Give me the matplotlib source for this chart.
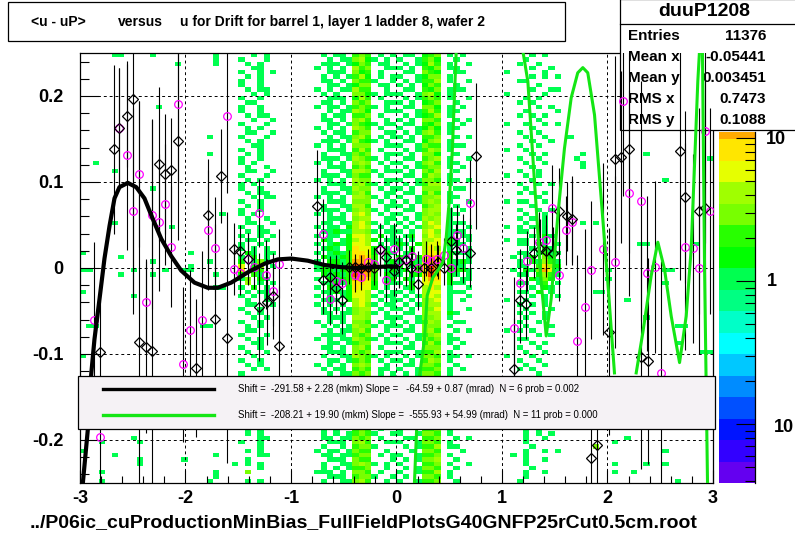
import numpy as np
import matplotlib
matplotlib.use('agg')
import matplotlib.pyplot as plt
from matplotlib import font_manager
from matplotlib.colors import ListedColormap, BoundaryNorm
from matplotlib.patches import Rectangle
from matplotlib.lines import Line2D

plt.rcParams['font.family'] = ['Liberation Sans', 'DejaVu Sans']
_names = {f.name for f in font_manager.fontManager.ttflist}
NARROW = ['Liberation Sans Narrow'] if 'Liberation Sans Narrow' in _names else ['Liberation Sans']
W, H = 795, 537

## 2D histogram <u - uP> vs u : 100 x-bins (-3..3), 100 y-bins (0.25 .. -0.25, top row first)
## '.' empty, digits = content level (see cell_value); spaces only group every 5 bins
hist_rows = [
    "..... 11... .1... ..... .1... ..1.1 ..... ...1. 11.34 3.1.1 .11.2 34.1. 1.... ..... .1.1. ..... ..... ..... ..... .....",
    "..... ..... ..... ..... .1... 1...1 ..... ....1 .1145 21.1. 1..13 42..1 ..... ..... 1.... ..... ..... ..... ..... .....",
    "..... ..... ..... 1.... .1... .1.1. ..... ...11 1.124 3.11. .1.12 53.1. .1... ....1 ..1.. ..... ..... ..... ..... .....",
    "..... ..... ..... ..... ..... ..11. ..... ..1.1 .1.53 4..11 1.1.3 24.11 ..... ..... .1..1 ..... ..... ..... ..... .....",
    "..... ..... ..... ..... ..... 1..1. 1.... ....1 11.42 3.1.. .11.4 32..1 1.... ..1.. ...1. ..... ..... ..... ..... .....",
    "..... ..... ..... ..... ..... .1.1. ..... ...1. 1.135 2.1.1 1..12 44.1. ..... ..... .1.1. 1.... ..... ..... ..... .....",
    "..... ..... ..... ..... ..... 1..1. ..... ...11 .1.43 31..1 .1.13 35.1. .1... ....1 1.... ..... ..... ..... ..... .....",
    "..... ..... ..... ..... ..... 1..1. ..... ....1 1.124 4.11. 1.1.2 43..1 ..... ..... ..1.. ..... ..... ..... ..... .....",
    "..... ..... ..... ..... ..... .1.11 ..... ..1.1 .1153 3..1. .11.3 24.11 1.... ..... .1..1 1.... ..... ..... ..... .....",
    "..... ..... ..... ..... ..... ..1.1 ..... ...1. 1..44 21.11 1..14 52.1. ..... ..1.. ...1. ..... ..... ..... ..... .....",
    "..... ..... ..... ..... ..... 1..1. ..... ....1 11.25 3.1.. .1.13 43.1. .1... ..... 1.1.. ..... ..... ..... ..... .....",
    "..... ..... ..... ..... ..... .11.. ..... ...11 .1.43 4..11 1.1.2 34..1 ..... ....1 .1... ..... ..... ..... ..... .....",
    "..... ..... ..1.. ..... ..... 1..1. ..... ..1.1 1.134 31.1. .11.4 42.1. 1.... ..... ..1.1 ..... ..... ..... ..... .....",
    "..... ..... ..... ..... ..... 1..1. ..... ....1 .1154 2..11 1..13 53.11 ..... ..... 1.... 1.... ..... ..... ..... .....",
    "..... ..... ..... ..... ..... .1.11 ..... ...1. 11.33 4.1.. .1.12 35.1. ..... ....1 .1.1. ..... ..... ..... ..... .....",
    "..... ..... ..... ..... ..... ..1.. 1.... ...11 .1.45 3..1. 1.1.4 43..1 .1... ..... ..1.. ..... ..... ..... ..... .....",
    "..... ..... ..... ..... ..... 1...1 ..... ....1 1.143 21.11 .11.3 24.1. 1.... ..1.. 1..1. 1.... ..... ..... ..... .....",
    "..... ..... ..... ..... ..... .1.1. ..... ..1.1 .1.54 3.1.. 1..12 42.11 ..... ..... .1... ..... ..... ..... ..... .....",
    "..... ..... ..... ..... ..... .11.. 1.... ...1. 11.34 4..11 .1.14 53.1. ..... ....1 ..1.. ..... ..... ..... ..... .....",
    "..... ..... ..... ..... 1.... 1...1 ..... ....1 .1145 3.1.1 1.1.3 34..1 .1... ..... 1..1. ..1.. ..... ..... ..... .....",
    "..... ..... ..... ..... ..... .1.1. ..... ...11 1.153 21.1. .11.2 45.1. ..... ..... .1..1 ..... ..... ..... ..... .....",
    "..... ..... ..... ..... ..... ..11. ..... ..1.1 .1.44 4..11 1..14 33.11 1.... ....1 ..1.. ..... ..... ..... ..... .....",
    "..... ..... ..... ..... ..... 1..1. ..... ....1 11.35 3.1.. .1.13 54.1. ..... ..1.. 1.... ..... ..... ..... ..... .....",
    "..... ..... ..... ..... 1.... .1.1. ..... ...1. .1143 4..11 1.1.4 42..1 ..... ..... .1.1. ....1 ..... ....1 ..... .....",
    "..... ..... ..... ..... ..... 1..1. ..... ...11 1.154 31.1. .11.3 45.1. .1... ....1 ..1.. ...1. ..... ..... ..... ....1",
    "..1.. ..... ..... ..... ..... 1.1.. ..... ..1.1 .1.45 4.1.1 1..14 53.11 ..... ..... 1..1. ....1 ..... ..... ..... .....",
    "..... ..... ..... ..... ..... .1..1 ..... ....1 11.34 3..1. .1.13 44.1. 1.... ..... .1... ....1 ..... ..... ..... .....",
    "..... 1.... ..... ..... ..... .11.. 1.... ...1. .1155 41.11 1.1.4 35..1 ..... ....1 ..1.. ..... ..... ..... ..... .....",
    "..... ..... ..... ..... ..... 1...1 ..... ...11 1.143 3.1.. .11.3 54.1. ..... ..1.. 1.1.. ..... ..... ..... ..... .....",
    "..... ..... ..... ..... ..... .1.1. ..... ..1.1 .1.54 4..11 1..14 43.11 .1... ..... .1... ..... ..... ..... ..1.. .....",
    "..... ..... ..... ..... ..... 1.1.. ..... ....1 11.45 31.1. .1.13 55.1. ..... ....1 ..1.1 ..... ..... ..... ..... .....",
    "..... ..... .1... ..... ..... 1..1. ..... ...1. .1154 4.1.1 1.1.4 44..1 1.... ..... 1.... ..... ..... ..... ..... .....",
    "..... ..... ..... ..... ..... .1.11 ..... ...11 1.145 3..11 .11.3 53.1. ..... ....1 .1.1. ..... ..... ..... ..... .....",
    "..... ..... ..... ..... ..... ..1.1 1.... ..1.1 .1.55 41.1. 1..14 45.11 ..... ..... ..1.. ..... ..... ..... ..... .....",
    "..... ..... ..... ..... ..... 1..1. ..... ....1 11.44 4.1.1 .1.14 54.1. .1... ..1.1 1..1. ..... ..... ..... ..... .....",
    "..... ..... ..... ..... ..... .1.1. ..... ...1. .1155 3..11 1.1.3 45..1 ..... ..... .1... ..... ..... ..... ..... .....",
    "..... ..... ..... ..... ..... 1..1. ..... ...11 1.145 41.1. .11.4 55.1. 1.... ....1 ..1.1 ..... ..... ..... ..... .....",
    "..... ..... ..... ..... ..1.. 1.1.. ..... ..1.1 .1.56 4.1.1 1..14 54.11 ..... ..... 1..1. ..... ..... ..... ..... .....",
    "..... ..... ..... ..... ..... .1..1 ..... ....1 11.45 5..11 .1.15 45.1. ..... ....1 .1.1. ..... ..... ..... ..... .....",
    "..... 1.... ..... ..... ..... .11.. 1.... ...11 .1156 41.1. 1.1.4 65.11 1.... ..... 1..1. ....1 .1... ..... ..... .....",
    "..... ..... ....1 ..... ..... 1..1. ..... ..1.1 1.256 5.1.1 .1.14 56.1. .1... ..1.1 .1.1. ..... ..... ..... ..... .....",
    "..... ..... ..... ..... ..... .1.11 ..... ...11 21155 41.11 1.1.5 64.11 1.... ....1 1..1. ..... ..... ..... ..... .....",
    "..... ..... ..... ..... ..... 1..1. 1.... ..1.1 1.266 5.2.1 .12.4 65.1. 11... ..... .1.21 ..... ..... ..... ..... .....",
    "..... ..... ..... ..... ..... .11.1 ..... ...21 .1256 52.11 1.1.5 56.21 .1... ..1.1 1..1. ..... ..... ..... ..... .....",
    "..... ..... ..... ..... ..... 1..1. ..... ..1.1 21266 5.1.1 21.25 66.21 1.... ....1 1.21. 1.... ..... ...11 ..... ..1..",
    "..... ..... ..... ..... ..... 1.1.1 ..... ...12 1.276 62.1. 1.2.5 75.1. .1... ..... .1.21 ..... ..... ..... ..... .....",
    "1.... ..... ..... ..1.. ..... .21.1 1.... ..1.1 21377 62.21 .12.5 76.21 11... ....1 1.131 1.... ..... ..... ..... .....",
    "..... .1... ..... ..... ..... 1.2.1 ..... ...21 12378 73.1. 21.26 87.2. .1... ...1. 12.42 ..... ..... ..... ..... .....",
    "..... ..... .1... ..... 1.... 2.141 ..... ..1.2 21388 73.12 1.216 87.21 21... ....1 .2153 1.... ..... ..... ..... .....",
    "..... ..... ..... ..1.. ..... 6.25. 1.... ..121 31399 84.21 2.137 98.31 1.... ....1 1.375 2.... ..... ..... ..... .....",
    "11... ...1. ...1. .11.. ..... 7.13. ..... ..122 12399 94.12 12.37 98.32 21... ...1. 21486 1.... ...1. ..... ..11. .....",
    "..... .1... .1... ..... .1... 2.31. ..... ...21 21398 83.21 1.227 97.21 .1... ....1 1.253 1.... ..... ..... ..... .....",
    "..... ..... ..... ..... ..... 14.21 ..... ..1.2 12388 73.12 .21.6 87.2. 11... ..... .2142 ..... ...1. ..... ..... .....",
    "..... ..... ..... ..... ..... .5.1. 1.... ...11 21377 62.21 1.2.6 76.21 1.... ....1 1.13. 1.... ..... ..... ..1.. .....",
    "..... ..... ..... ..... .11.. 1.2.1 ..... ..1.2 1.276 62.1. .12.5 75.1. .1... ..... .1.21 ..... ..... ..... ..... .....",
    "1.... ..... ..... ..... ..... .1.11 ..... ...11 21266 5.1.1 1.1.5 66.11 1.... ....1 1.2.1 ..... .11.. ..... ..... .....",
    "..... ...1. ..... ..... ..... 1.1.1 ..... ..1.1 .1266 51.11 .1.15 65.1. .1... ..... .1.1. 1.... ..... ..... ..... .....",
    "..... ..... ..... ..... ..... .1..1 ..... ...11 1.256 5.1.1 1.1.4 56.1. 1.... ..1.. 1..1. ..... ..... .1... ..... .....",
    "..... ..... ..... ..... ..... .11.. 1.... ..1.1 .1.56 41.11 .1.14 55.1. ..... ....1 .1.1. ..... ..... ..... ..... .....",
    "..... ..... ..... ..... ..... 1..1. ..... ...1. 1.145 5.1.1 1.1.4 46.1. .1... ..... 1...1 ..... ..... ..... ..... .....",
    "..... ..... ..... ..... ..... .1.1. ..... ...11 .1145 41.1. .11.4 55.21 ..... ....1 .1.1. ..... ..... ..... ..... .....",
    "..... ..... ..... ..... ..... ..1.1 ..... ....1 11.55 4..11 1..14 45.1. ..... ..... 1..1. ..... ..... ....1 ..... .....",
    "..... ..... ..... ..... ..... 1..1. ..... ..1.1 .1.44 3.1.1 .1.13 54..1 1.... ....1 ..1.. ..... ..... ..... ..... .....",
    ".11.. ..... ..... ....1 1.... .1.1. ..... ...1. 1.154 41.11 1.1.4 44.1. ..... ..... 1...1 ..... ..... ..... ....1 1....",
    "..... ..... ..... ..... ..... .11.. ..... ....1 .1145 3..1. .11.4 53..1 .1... ..1.1 .1... ..... ..... ..... ..... .....",
    "..... ..... ..... ..... ..... 1...1 ..... ...11 11.43 4.1.1 1..13 45.1. ..... ..... ..1.1 ..... ..... ..... ..... .....",
    "..... ..... ..... ..... ..... .1.1. ..... ..1.1 .1154 31.1. .1.14 34.11 ..... ....1 1.... ..... ..... ..... ..... .....",
    "..... ..... ..... ..... ..... ..11. ..... ....1 1.134 4..11 1.1.3 53.1. 1.... ..... .1.1. ..... ..... ..... ....1 .....",
    "..... ..... ..... ..... ..... 1..1. ..... ...11 .1.45 3.1.. .11.4 44..1 ..... ....1 ..1.. ..... ..... ..... ..... .....",
    "..... ..... ..... ..... ..... .1..1 ..... ....1 11.43 4..11 1..13 35.1. ..... ..... 1..1. ..... ..... ..... ..... ...11",
    "1.... ..... ..... ..... ..... ..1.. ..... ...1. .1154 31.1. .1.14 43.11 .1... ..1.. .1... ..... ..... ..... ..... .....",
    "..... ..... ..... ..... ..... 1..1. ..... ....1 1.134 3.1.1 1.1.3 54.1. ..... ....1 ..1.. ..... ..... ..... ..... .....",
    "..... ..... ..... ..... ..... .1.1. ..... ..1.1 .1.45 4..1. .11.4 43..1 ..... ..... 1..1. ..... ..... ..... ..... .....",
    "..... ..... ..... ..... ..... ..1.1 ..... ...1. 11.34 3.11. 1..13 34.1. 1.... ....1 .1... ..... ..... ..... ..... .....",
    "..... ..... ..... ..... ..... 1.... ..... ....1 .1143 4.1.1 .1.14 43.1. ..... ..... ..1.. ..... ..... ..... ..... .....",
    "..... ..... ..... ..... ..... .1.1. ..... ...1. 1..34 3.1.. 1...3 34.1. ..... ..... 1.1.. ..... ..... ..... ..... .....",
    "..... ..... ..... ..... ..... ..1.. ..... ..1.1 .1.43 4..1. .1..4 43... ..... ..... .1... ..... ..... ..... ..... .....",
    "..... ..... ..... ..... ..... 1..1. ..... ...1. 1..34 3.1.. 1...3 34.1. ..... ..... ..1.. ..... ..... ..... ..... .....",
    "..... ..... ..... ..... ..... .1... ..... ..1.1 .1.43 4..1. .1..4 43..1 ..... ..... 1..1. ..... ..... ..... ..... .....",
    "..... ..... ..... ..... ..... ..1.1 ..... ...1. 1..34 3.1.. 1...3 34.1. ..... ..... .1... ..... ..... ..... ..... .....",
    "..... ..... ..... ..... ..... 1.... ..... ..1.1 .1.43 4..1. .1..4 43... ..... ..... ..1.. ..... ..... ..... ..... .....",
    "..... ..... ..... ..... ..... .1.1. ..... ...1. 1..34 3.1.. 1...3 34.1. ..... ..... 1.1.. ..... ..... ..... ..... .....",
    "..... ..... ..... ..... ..... ..1.. ..... ..1.1 .1.43 4..1. .1..4 43..1 ..... ..... .1... ..... ..... ..... ..... .....",
    "..... ..... ..... ..... ..... 1..1. ..... ...1. 1..34 3.1.. 1...3 34.1. ..... ..... ..1.. ..... ..... ..... ..... .....",
    "..... ..... ..... ..... ..... .1... ..... ..1.1 .1.43 4..1. .1..4 43... ..... ..... 1..1. ..... ..... ..... ..... .....",
    "..... ..... ..... ..... ..... ..1.1 ..... ...1. 1..34 3.1.. 1...3 34.1. ..... ..... .1... ..... ..... ..... ..... .....",
    "..... ..... ..... ..... ..... 1.... ..... ..1.1 .1.43 4..1. .1..4 43..1 ..... ..... ..1.. ..... ..... ..... ..... .....",
    "..... ..... ..... ..... ..... .1.1. ..... ...1. 1..34 3.1.. 1...3 34.1. ..... ..... 1.1.. ..... ..... ..... ..... .....",
    "..... ..... ..... ..... ..... .1.1. ..... ...1. 1.134 31..1 1..14 43.1. ..... ..... 1.1.1 ..... ..... ..... ..... .....",
    "..... ...1. ..... ..... ..... ...11 ..... ...11 .1143 4.1.. .11.3 34..1 .1... ..... 1..1. ..... ..... .1... ..... .....",
    "...1. ....1 ..... ..... ..... 1..1. ..... ....1 11.45 3..11 1..14 43.1. ..... ..... 1.... ..... ....1 ..... ..... .....",
    "..... ..... ..... ..... ..... ...1. ..... ...1. .1.34 41... .1.13 35.11 ..... ..... .1... ..... .4... ..... ..... .....",
    "1.... ..... ..... ..... ..... .1.1. ..... ..1.1 1.143 3..1. ..1.4 43... 1.... ..... 1..1. 1.... ..... ..... ..1.. .....",
    "..... 1.... ..... ..... .1... ...11 ..... ...11 .1134 4.1.1 1..13 34.1. ..... ...1. 1.... ..... ..... ..... ..... .....",
    "..... ....1 ..... .1... ..... .1... ..... ....1 11.43 3...1 .1.14 45..1 ..... ..... 1..1. ..... ..... ..... ..... .....",
    "..... ....1 ..... ..... ....1 .1.1. ..... ...1. .1145 41.1. 1...3 34.1. .1... ..... 1.... ..... ....1 ....1 ..1.. .....",
    "..... ..... ..... ..... ..... ...1. ..... ...1. 1.133 4..1. .1.14 43..1 ..... ..... .1... ..... ..... ..... ..... .....",
    "...1. ..... ..... ..... .1... .4... ..... ..111 .1.44 3.1.. 1..13 35.1. ..... ..... 1..1. ..... ....1 ..1.. ..... .....",
    "..... ..... ..... ..... .1... ..... ..... ....1 11.34 41..1 .1..4 43.1. ..... ..... 1.... ..... ..... ..... ..... .....",
    "...1. ..... ..... ..... 1.... .1.1. ..... ...1. .1145 3..1. 1..13 34..1 ..... ....1 ..... ..... ..... ..... ....1 .....",
]
cell_value = {'1': 1.0, '2': 1.5, '3': 2.0, '4': 3.0, '5': 4.0, '6': 5.5, '7': 8.0, '8': 10.5, '9': 14.0}

## colour palette of the z axis, bottom to top
palette = ['#6400f0', '#3200ff', '#0014ff', '#0050ff', '#008cff', '#00c8ff', '#00ffff',
           '#00ffc8', '#00ff82', '#00ff50', '#00ff00', '#28ff00', '#78ff00', '#a0ff00',
           '#e6ff00', '#ffe600', '#ffaa00']
over_colour = '#ff4000'
z_log_low, z_log_step, z_high = -1.41, 0.15, 11.0

## profile points  (u, <u-uP>, error)
black_u = [-2.806, -2.682, -2.626, -2.556, -2.502, -2.445, -2.379, -2.322, -2.253, -2.199, -2.142, -2.073,
           -1.896, -1.782, -1.716, -1.662, -1.602, -1.536, -1.479, -1.409, -1.299, -1.232, -1.175, -1.118,
           -0.752, -0.698, -0.635, -0.572, -0.515, -0.452, -0.398, -0.335, -0.272, -0.209, -0.152, -0.098,
           -0.025, 0.028, 0.092, 0.139, 0.208, 0.265, 0.33, 0.392, 0.45, 0.518, 0.566, 0.692, 0.755,
           1.118, 1.175, 1.232, 1.302, 1.359, 1.419, 1.482, 1.536, 1.618, 1.662, 1.839, 1.896,
           2.013, 2.073, 2.13, 2.202, 2.319, 2.383, 2.683, 2.736, 2.863, 2.926]
black_v = [-0.098, 0.138, 0.163, 0.177, 0.197, -0.086, -0.092, -0.097, 0.121, 0.109, 0.114, 0.148,
           -0.116, 0.062, -0.059, 0.107, -0.081, 0.022, 0.020, 0.0105, -0.045, -0.040, -0.032, -0.091,
           0.072, -0.014, -0.011, -0.023, -0.037, 0.001, 0.001, 0.0, 0.001, 0.0, 0.022, 0.013,
           -0.003, 0.007, 0.009, 0.0, -0.019, 0.0, 0.0, 0.007, 0.0, 0.031, 0.021, 0.018, 0.130,
           -0.118, -0.037, -0.042, 0.018, 0.022, 0.020, 0.018, 0.066, 0.060, 0.057, -0.221, -0.206,
           -0.074, 0.127, 0.129, 0.138, -0.104, -0.108, 0.136, 0.083, 0.066, 0.070]
black_err = [0.06, 0.098, 0.07, 0.06, 0.23, 0.28, 0.10, 0.27, 0.09, 0.07, 0.06, 0.116,
             0.08, 0.065, 0.11, 0.055, 0.146, 0.03, 0.03, 0.03, 0.063, 0.05, 0.05, 0.07,
             0.065, 0.04, 0.025, 0.03, 0.04, 0.02, 0.015, 0.015, 0.015, 0.02, 0.03, 0.025,
             0.03, 0.03, 0.03, 0.025, 0.03, 0.015, 0.015, 0.02, 0.02, 0.04, 0.03, 0.04, 0.085,
             0.06, 0.05, 0.04, 0.03, 0.035, 0.03, 0.03, 0.05, 0.04, 0.05, 0.05, 0.06,
             0.12, 0.12, 0.10, 0.12, 0.13, 0.12, 0.15, 0.10, 0.12, 0.15]

magenta_u = [-2.863, -2.806, -2.629, -2.559, -2.502, -2.445, -2.379, -2.322, -2.253, -2.199, -2.136, -2.073,
             -2.022, -1.962, -1.842, -1.782, -1.716, -1.602, -1.536, -1.479, -1.409, -1.355, -1.302, -1.235,
             -1.175, -1.118, -0.698, -0.635, -0.572, -0.515, -0.398, -0.335, -0.272, -0.209, -0.152, -0.098,
             -0.025, 0.028, 0.092, 0.145, 0.208, 0.275, 0.33, 0.386, 0.45, 0.512, 0.572, 0.635, 0.692,
             1.112, 1.175, 1.235, 1.355, 1.419, 1.476, 1.536, 1.608, 1.665, 1.713, 1.782, 1.839, 1.962,
             2.073, 2.145, 2.202, 2.319, 2.372, 2.452, 2.509, 2.736, 2.809, 2.863, 2.92, 2.976]
magenta_v = [-0.060, -0.196, 0.163, 0.131, 0.066, 0.109, -0.040, 0.062, 0.053, 0.074, 0.025, 0.191,
             -0.112, -0.072, -0.060, 0.044, 0.023, 0.177, -0.001, -0.006, 0.011, 0.001, 0.064, -0.008,
             -0.027, 0.005, 0.040, -0.036, -0.015, -0.018, -0.008, -0.010, 0.007, 0.005, 0.021, -0.014,
             0.022, 0.008, 0.011, 0.014, 0.0, 0.011, 0.008, 0.011, 0.015, 0.0, 0.038, 0.023, 0.076,
             -0.070, -0.018, 0.008, 0.030, 0.032, 0.070, -0.008, 0.044, 0.054, -0.085, -0.045, -0.002, 0.022,
             0.007, 0.194, 0.087, 0.078, -0.006, 0.001, -0.122, 0.025, 0.023, 0.0, 0.159, 0.066]
magenta_err = [0.09, 0.07, 0.07, 0.11, 0.12, 0.085, 0.05, 0.11, 0.08, 0.07, 0.07, 0.09,
               0.09, 0.07, 0.08, 0.07, 0.06, 0.09, 0.03, 0.025, 0.03, 0.025, 0.04, 0.04,
               0.04, 0.04, 0.04, 0.03, 0.03, 0.025, 0.02, 0.015, 0.015, 0.02, 0.03, 0.025,
               0.03, 0.03, 0.025, 0.025, 0.02, 0.02, 0.02, 0.02, 0.02, 0.02, 0.035, 0.04, 0.05,
               0.06, 0.04, 0.035, 0.035, 0.03, 0.05, 0.03, 0.04, 0.05, 0.10, 0.09, 0.08, 0.10,
               0.10, 0.11, 0.12, 0.14, 0.09, 0.10, 0.13, 0.12, 0.11, 0.10, 0.13, 0.12]

## fitted curves (nan = curve leaves the frame)
black_fit_u = [-2.973, -2.926, -2.894, -2.863, -2.815, -2.768, -2.72, -2.673, -2.626, -2.547, -2.467, -2.389,
               -2.31, -2.23, -2.136, -2.041, -1.915, -1.789, -1.694, -1.567, -1.409, -1.251, -1.125, -0.998,
               -0.841, -0.682, -0.524, -0.367, -0.209, -0.05, 0.0]
black_fit_v = [-0.25, -0.188, -0.124, -0.083, -0.036, 0.011, 0.049, 0.081, 0.094, 0.099, 0.094, 0.081,
               0.057, 0.034, 0.014, -0.003, -0.017, -0.023, -0.023, -0.017, -0.005, 0.005, 0.010, 0.011,
               0.0085, 0.0035, 0.001, 0.0, 0.001, 0.002, 0.0015]
green_fit_u = [0.17, 0.19, 0.22, 0.265, 0.291, 0.345, 0.392, 0.439, 0.47, 0.502, 0.53, 0.566, np.nan,
               1.198, 1.245, 1.308, 1.372, 1.419, 1.466, 1.529, 1.592, 1.656, 1.718, 1.766, 1.813, 1.877,
               1.94, 2.003, 2.066, np.nan,
               2.272, 2.335, 2.414, 2.477, 2.54, 2.604, 2.683, 2.746, 2.793, 2.825, 2.856, 2.872, 2.9,
               2.92, 2.948]
green_fit_v = [-0.25, -0.19, -0.124, -0.083, -0.032, -0.011, -0.003, 0.007, 0.034, 0.081, 0.139, 0.252, np.nan,
               0.252, 0.217, 0.1, -0.017, -0.079, -0.036, 0.061, 0.139, 0.198, 0.227, 0.233, 0.227, 0.178,
               0.081, -0.017, -0.122, np.nan,
               -0.122, -0.075, -0.009, 0.030, -0.001, -0.056, -0.110, -0.056, 0.022, 0.12, 0.217, 0.252, 0.252,
               0.0, -0.25]

title_parts = ['<u - uP>', 'versus', 'u for Drift for barrel 1, layer 1 ladder 8, wafer 2']
stats_name = 'duuP1208'
stats_rows = [('Entries', '11376'), ('Mean x', '-0.05441'), ('Mean y', '0.003451'),
              ('RMS x', '0.7473'), ('RMS y', '0.1088')]
legend_texts = ['Shift =  -291.58 + 2.28 (mkm) Slope =   -64.59 + 0.87 (mrad)  N = 6 prob = 0.002',
                'Shift =  -208.21 + 19.90 (mkm) Slope =  -555.93 + 54.99 (mrad)  N = 11 prob = 0.000']
footer = '../P06ic_cuProductionMinBias_FullFieldPlotsG40GNFP25rCut0.5cm.root'

x_ticks = [-3, -2, -1, 0, 1, 2, 3]
y_ticks = [-0.2, -0.1, 0.0, 0.1, 0.2]
y_tick_labels = ['-0.2', '-0.1', '0', '0.1', '0.2']

green = '#14e614'


def fx(px):
    return px / W


def fy(py):
    return 1 - py / H


fig = plt.figure(figsize=(W / 100, H / 100), dpi=100)
ax = fig.add_axes([fx(80), fy(483), (713 - 80) / W, (483 - 53) / H])

## histogram
rows = [r.replace(' ', '').ljust(100, '.')[:100] for r in hist_rows]
Z = np.array([[cell_value.get(c, np.nan) for c in r] for r in rows])
Z = np.ma.masked_invalid(Z[::-1])
x_edges = np.linspace(-3, 3, 101)
y_edges = np.linspace(-0.25, 0.25, 101)
bounds = [10 ** (z_log_low + z_log_step * k) for k in range(len(palette))] + [z_high]
cmap = ListedColormap(palette)
cmap.set_over(over_colour)
norm = BoundaryNorm(bounds, len(palette), clip=False)
ax.pcolormesh(x_edges, y_edges, Z, cmap=cmap, norm=norm, edgecolors='none', antialiased=False, zorder=1)

ax.set_xlim(-3, 3)
ax.set_ylim(-0.25, 0.25)
ax.set_axisbelow(False)
ax.grid(True, which='major', color='black', linestyle=(0, (3, 3)), linewidth=0.7)
tick_font = dict(fontfamily=NARROW, fontweight='bold', fontsize=13)
ax.set_xticks(x_ticks, labels=[str(t) for t in x_ticks], **tick_font)
ax.set_yticks(y_ticks, labels=y_tick_labels, **tick_font)
ax.set_xticks(np.arange(-3, 3.001, 0.2), minor=True)
ax.set_yticks(np.arange(-0.24, 0.241, 0.02), minor=True)
ax.tick_params(axis='x', which='major', direction='in', length=9.4, width=0.8, pad=5)
ax.tick_params(axis='x', which='minor', direction='in', length=4.7, width=0.8)
ax.tick_params(axis='y', which='major', direction='in', length=13.7, width=0.8, pad=12)
ax.tick_params(axis='y', which='minor', direction='in', length=6.8, width=0.8)
for s in ax.spines.values():
    s.set_linewidth(0.9)

## statistics box (over the frame, under the graphs)
ax.add_patch(Rectangle((fx(620), fy(130)), (800 - 620) / W, 131 / H, transform=fig.transFigure,
                       facecolor='white', edgecolor='black', linewidth=0.9, clip_on=False, zorder=2.6))
ax.add_line(Line2D([fx(620), fx(800)], [fy(24), fy(24)], transform=fig.transFigure, color='black',
                   linewidth=0.9, clip_on=False, zorder=2.65))
ax.text(fx(704), fy(12), stats_name, transform=fig.transFigure, ha='center', va='center',
        fontsize=14, fontweight='bold', zorder=2.7, clip_on=False)
for k, (lab, val) in enumerate(stats_rows):
    yy = fy(36 + 21 * k)
    ax.text(fx(628), yy, lab, transform=fig.transFigure, ha='left', va='center', fontsize=11,
            fontweight='bold', zorder=2.7, clip_on=False)
    ax.text(fx(766), yy, val, transform=fig.transFigure, ha='right', va='center', fontsize=11,
            fontweight='bold', zorder=2.7, clip_on=False)

## profile points
ax.errorbar(magenta_u, magenta_v, yerr=magenta_err, fmt='none', ecolor='black', elinewidth=0.8, zorder=3)
ax.errorbar(black_u, black_v, yerr=black_err, fmt='none', ecolor='black', elinewidth=0.8, zorder=3)
ax.plot(magenta_u, magenta_v, 'o', ms=5.5, mfc='none', mec='#ff00ff', mew=0.9, zorder=3.5)
ax.plot(black_u, black_v, 'D', ms=4.6, mfc='none', mec='black', mew=0.9, zorder=3.6)

## fits
ax.plot(black_fit_u, black_fit_v, color='black', lw=3, zorder=4)
ax.plot(green_fit_u, green_fit_v, color=green, lw=2.2, zorder=4)

## colour scale
cax = fig.add_axes([fx(719), fy(483), (755 - 719) / W, (483 - 132) / H])
cax.set_yscale('log')
cax.set_ylim(bounds[0], bounds[-1])
cax.set_xlim(0, 1)
for k, c in enumerate(palette):
    cax.axhspan(bounds[k], bounds[k + 1], color=c, lw=0)
for side in ['left', 'top', 'bottom']:
    cax.spines[side].set_visible(False)
cax.spines['right'].set_linewidth(0.9)
cax.set_xticks([])
cax.yaxis.tick_right()
cax.tick_params(axis='y', which='major', direction='in', length=13.7, width=0.8, labelright=False)
cax.tick_params(axis='y', which='minor', direction='in', length=7.2, width=0.8, labelright=False)
cbar_font = dict(fontfamily=NARROW, fontweight='bold', fontsize=13, va='center', ha='left')
fig.text(fx(766), fy(139), '10', **cbar_font)
fig.text(fx(767), fy(282), '1', **cbar_font)
fig.text(fx(774), fy(428), '10', **cbar_font)

## legend
fig.add_artist(Rectangle((fx(78), fy(429)), (715 - 78) / W, (429 - 376) / H, transform=fig.transFigure,
                         facecolor='#f5f2f5', edgecolor='black', linewidth=0.9, zorder=10))
for k, (col, txt) in enumerate(zip(['black', green], legend_texts)):
    yy = fy(389 + 26 * k)
    fig.add_artist(Line2D([fx(103), fx(214)], [yy, yy], transform=fig.transFigure, color=col,
                          linewidth=2.4, zorder=11))
    fig.text(fx(238), yy, txt, ha='left', va='center', fontsize=6.9, zorder=11)

## title box
fig.add_artist(Rectangle((fx(8), fy(41)), (565 - 8) / W, 39 / H, transform=fig.transFigure,
                         facecolor='white', edgecolor='black', linewidth=0.9, zorder=10))
for px, part in zip([31, 118, 180], title_parts):
    fig.text(fx(px), fy(22), part, ha='left', va='center', fontfamily=NARROW, fontweight='bold',
             fontsize=10, zorder=11)

fig.text(fx(30), fy(523), footer, ha='left', va='center', fontfamily=NARROW, fontweight='bold', fontsize=14)

fig.savefig('out.png', dpi=100)
